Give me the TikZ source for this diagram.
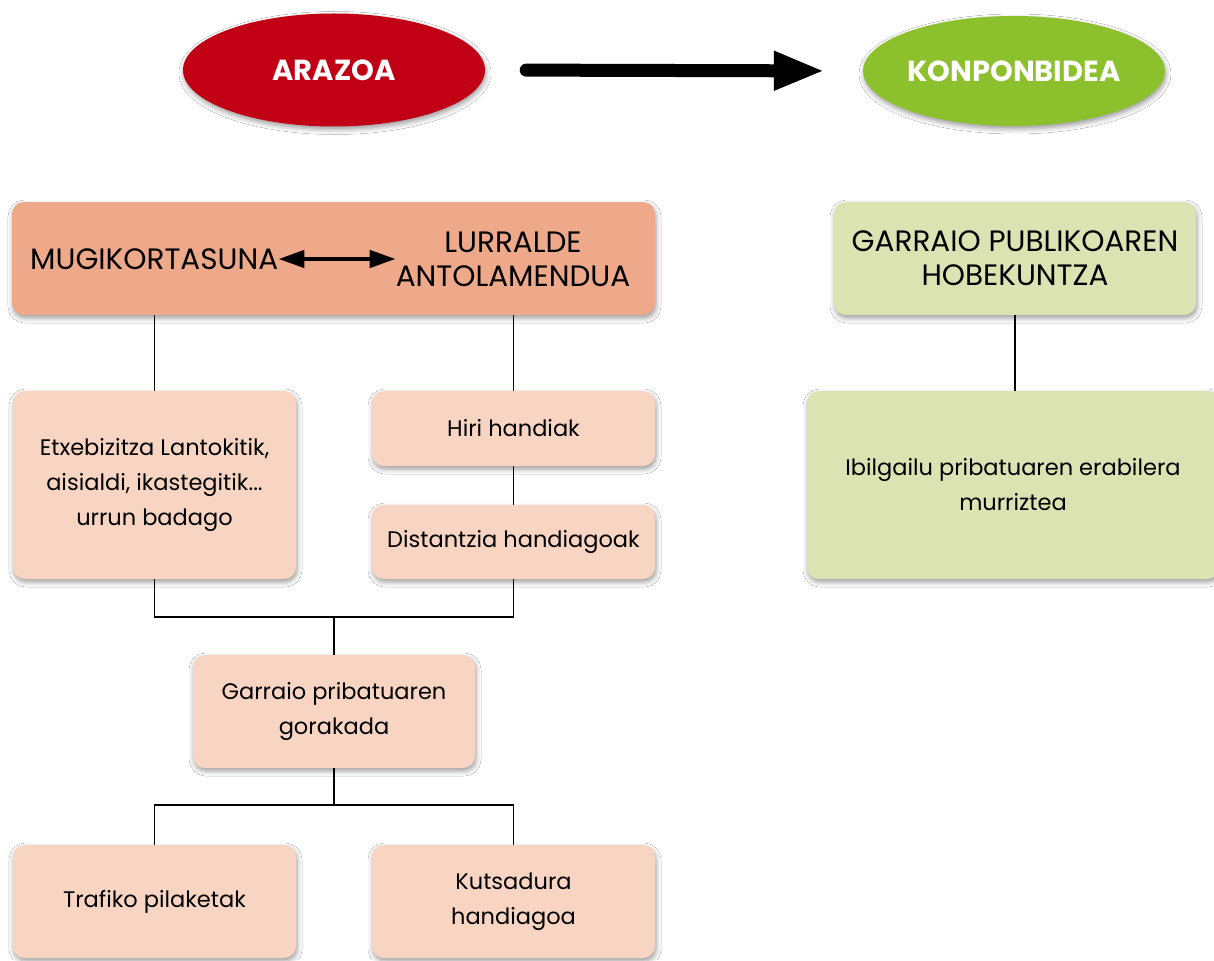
\documentclass[tikz,border=0pt]{standalone}
\usepackage{fontspec}
\setmainfont{Poppins}
\usetikzlibrary{shadows.blur,arrows.meta,shapes.geometric}
\definecolor{redell}{HTML}{C20015}
\definecolor{greenell}{HTML}{8CC02C}
\definecolor{orangebox}{HTML}{EDA98A}
\definecolor{peachbox}{HTML}{F8D4C2}
\definecolor{greenbox}{HTML}{DCE3B2}
\tikzset{
  shad/.style={blur shadow={shadow xshift=1pt,shadow yshift=-3pt,shadow blur radius=5pt,shadow opacity=40}},
  rbox/.style={rectangle,rounded corners=12pt,shad,inner sep=0pt,align=center,
    font=\fontsize{22.5}{35}\selectfont},
  pbox/.style={rbox,fill=peachbox},
  gbox/.style={rbox,fill=greenbox},
  ell/.style={ellipse,inner sep=0pt,shad,text=white,font=\fontsize{29}{30}\selectfont\bfseries},
  conn/.style={line width=1.8pt,black},
  capsfont/.style={font=\fontsize{29.5}{34}\selectfont},
  txt/.style={inner sep=0pt,align=center,capsfont},
}
\begin{document}
\begin{tikzpicture}[x=1pt,y=-1pt]
\useasboundingbox[fill=white] (0,0) rectangle (1214,960);
% ellipses
\node[ell,fill=redell,minimum width=302pt,minimum height=113pt] (arz) at (334,70) {ARAZOA};
\node[ell,fill=greenell,minimum width=302pt,minimum height=110pt] (kon) at (1014,71) {KONPONBIDEA};
\draw[line width=13pt,line cap=round,shorten <=41pt,shorten >=38pt,-{Triangle[length=51pt,width=36pt]}] (arz.east) -- (kon.west);
% top boxes
\node[rbox,fill=orangebox,minimum width=643pt,minimum height=113pt] (top) at (333.5,258.5) {};
\node[txt,anchor=west] (mug) at (30,259) {MUGIKORTASUNA};
\node[txt] (lur) at (513,259) {LURRALDE\\ANTOLAMENDUA};
\draw[line width=4.5pt,{Triangle[length=26pt,width=17pt]}-{Triangle[length=26pt,width=17pt]}] (mug.east) -- (lur.west);
\node[gbox,minimum width=362pt,minimum height=113pt,capsfont] (pub) at (1015,258.5) {GARRAIO PUBLIKOAREN\\HOBEKUNTZA};
% left column
\node[pbox,minimum width=283pt,minimum height=188pt] (etx) at (154.5,485) {Etxebizitza Lantokitik,\\aisialdi, ikastegitik...\\urrun badago};
\node[pbox,minimum width=283pt,minimum height=75pt] (hiri) at (513.5,428.5) {Hiri handiak};
\node[pbox,minimum width=283pt,minimum height=74pt] (dist) at (513.5,542) {Distantzia handiagoak};
\node[pbox,minimum width=282pt,minimum height=113pt] (gar) at (334,711.5) {Garraio pribatuaren\\gorakada};
\node[pbox,minimum width=283pt,minimum height=113pt] (traf) at (154.5,901.5) {Trafiko pilaketak};
\node[pbox,minimum width=283pt,minimum height=113pt] (kuts) at (513.5,901.5) {Kutsadura\\handiagoa};
% right column
\node[gbox,minimum width=412pt,minimum height=188pt] (ibil) at (1013,485) {Ibilgailu pribatuaren erabilera\\murriztea};
% connectors
\coordinate (m1) at (334,617);
\coordinate (m2) at (334,805);
\draw[conn] (top.south -| etx.north) -- (etx.north);
\draw[conn] (top.south -| hiri.north) -- (hiri.north);
\draw[conn] (hiri.south) -- (dist.north);
\draw[conn] (etx.south) |- (m1) -| (dist.south);
\draw[conn] (m1) -- (gar.north);
\draw[conn] (gar.south) -- (m2);
\draw[conn] (traf.north) |- (m2) -| (kuts.north);
\draw[conn] (pub.south) -- (pub.south |- ibil.north);
\end{tikzpicture}
\end{document}
